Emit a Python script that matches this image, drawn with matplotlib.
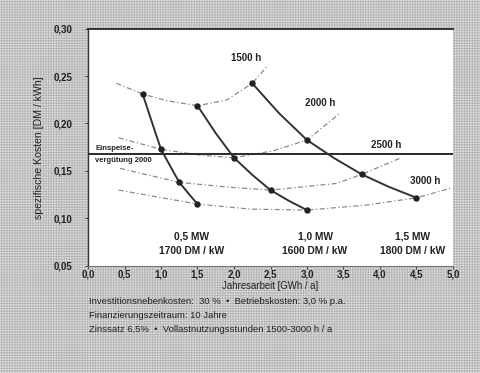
import numpy as np
import matplotlib
matplotlib.use("Agg")
import matplotlib.pyplot as plt

plt.rcParams['font.family'] = ['Liberation Sans', 'DejaVu Sans']

# Wind turbine classes: rated power [MW] and specific investment [DM/kW]
capacity_labels = ["0,5 MW", "1,0 MW", "1,5 MW"]
price_labels = ["1700 DM / kW", "1600 DM / kW", "1800 DM / kW"]

# Full-load hours and annual yield [GWh/a] per turbine class
hours = [1500, 2000, 2500, 3000]
yield_05 = [0.75, 1.00, 1.25, 1.50]
yield_10 = [1.50, 2.00, 2.50, 3.00]
yield_15 = [2.25, 3.00, 3.75, 4.50]

# Specific generation cost [DM/kWh]
cost_05 = [0.2307, 0.1727, 0.1379, 0.1150]
cost_10 = [0.2187, 0.1638, 0.1297, 0.1086]
cost_15 = [0.2423, 0.1825, 0.1463, 0.1216]

# Intermediate points on the cost curves (between the full-load-hour nodes)
mid_x_05 = [0.88, 1.13, 1.38]
mid_y_05 = [0.2003, 0.1545, 0.1258]
mid_x_10 = [1.75, 2.25, 2.75]
mid_y_10 = [0.1897, 0.1458, 0.1185]
mid_x_15 = [2.62, 3.37, 4.12]
mid_y_15 = [0.2105, 0.1635, 0.1332]

# Iso-line traces for constant full-load hours (x in GWh/a, y in DM/kWh)
iso_1500_x = [0.39, 0.76, 1.08, 1.50, 1.90, 2.25, 2.47]
iso_1500_y = [0.2423, 0.2307, 0.2240, 0.2187, 0.2247, 0.2423, 0.2616]
iso_2000_x = [0.42, 1.00, 1.53, 2.00, 2.54, 3.00, 3.45]
iso_2000_y = [0.1849, 0.1727, 0.1667, 0.1638, 0.1712, 0.1825, 0.2107]
iso_2500_x = [0.44, 1.25, 1.90, 2.50, 3.41, 3.75, 4.27]
iso_2500_y = [0.1526, 0.1379, 0.1330, 0.1297, 0.1368, 0.1463, 0.1632]
iso_3000_x = [0.42, 1.50, 2.22, 3.00, 3.82, 4.50, 4.96]
iso_3000_y = [0.1297, 0.1150, 0.1097, 0.1086, 0.1140, 0.1216, 0.1315]
iso_labels = ["1500 h", "2000 h", "2500 h", "3000 h"]

# Feed-in tariff 2000 [DM/kWh]
feed_in = 0.168

x_ticks = [0.0, 0.5, 1.0, 1.5, 2.0, 2.5, 3.0, 3.5, 4.0, 4.5, 5.0]
x_tick_labels = ["0,0", "0,5", "1,0", "1,5", "2,0", "2,5", "3,0", "3,5", "4,0", "4,5", "5,0"]
y_ticks = [0.05, 0.10, 0.15, 0.20, 0.25, 0.30]
y_tick_labels = ["0,05", "0,10", "0,15", "0,20", "0,25", "0,30"]

notes = [
    "Investitionsnebenkosten:  30 %  \u2022  Betriebskosten: 3,0 % p.a.",
    "Finanzierungszeitraum: 10 Jahre",
    "Zinssatz 6,5%  \u2022  Vollastnutzungsstunden 1500-3000 h / a",
]

W, H = 481, 373
fig = plt.figure(figsize=(W / 100, H / 100), dpi=100)

# halftone-style grey paper behind the chart
bg = fig.add_axes([0, 0, 1, 1], zorder=-5)
yy, xx = np.mgrid[0:H, 0:W]
u = (xx + yy) * np.pi / 2.6
v = (xx - yy) * np.pi / 2.6
tex = 0.77 + 0.11 * np.cos(u) * np.cos(v)
bg.imshow(tex, cmap="gray", vmin=0, vmax=1, extent=[0, 1, 0, 1],
          aspect="auto", interpolation="bilinear")
bg.set_axis_off()

left, right = 88 / W, 453 / W
bottom, top = 1 - 265.7 / H, 1 - 28.6 / H
ax = fig.add_axes([left, bottom, right - left, top - bottom])
ax.set_facecolor("white")
ax.set_xlim(0, 5)
ax.set_ylim(0.05, 0.30)

dash = (0, (4, 2, 1, 2))
iso_color = "#8a8a8a"
for xs, ys in [(iso_1500_x, iso_1500_y), (iso_2000_x, iso_2000_y),
               (iso_2500_x, iso_2500_y), (iso_3000_x, iso_3000_y)]:
    ax.plot(xs, ys, color=iso_color, lw=0.9, ls=dash, zorder=2)

ax.axhline(feed_in, color="#2a2a2a", lw=1.4, zorder=3)

curve_color = "#333333"
for nx, ny, mx, my in [(yield_05, cost_05, mid_x_05, mid_y_05),
                       (yield_10, cost_10, mid_x_10, mid_y_10),
                       (yield_15, cost_15, mid_x_15, mid_y_15)]:
    px = [nx[0], mx[0], nx[1], mx[1], nx[2], mx[2], nx[3]]
    py = [ny[0], my[0], ny[1], my[1], ny[2], my[2], ny[3]]
    ax.plot(px, py, color=curve_color, lw=1.4, zorder=4,
            solid_joinstyle="round")
    ax.plot(nx, ny, ls="none", marker="o", ms=3.6, color="#222222", zorder=5)

lab_kw = dict(fontsize=7, fontweight="bold", color="#222222", ha="center", va="center")
iso_label_pos = [(2.17, 0.269), (3.18, 0.2212), (4.09, 0.1772), (4.62, 0.1392)]
for text, (lx, ly) in zip(iso_labels, iso_label_pos):
    ax.text(lx, ly, text, **lab_kw)

mw_kw = dict(lab_kw, fontsize=7.4)
cap_pos_x = [1.42, 3.11, 4.45]
for text, lx in zip(capacity_labels, cap_pos_x):
    ax.text(lx, 0.0812, text, **mw_kw)
for text, lx in zip(price_labels, cap_pos_x):
    ax.text(lx, 0.0654, text, **mw_kw)

ax.text(0.096, 0.1735, "Einspeise-", fontsize=5.5, fontweight="bold",
        color="#222222", ha="left", va="center")
ax.text(0.096, 0.1607, "verg\u00fctung 2000", fontsize=5.5, fontweight="bold",
        color="#222222", ha="left", va="center")

ax.set_xticks(x_ticks)
ax.set_xticklabels(x_tick_labels)
ax.set_yticks(y_ticks)
ax.set_yticklabels(y_tick_labels)
ax.tick_params(axis="both", labelsize=7, length=2, width=0.7, color="#444444")
ax.tick_params(axis="y", pad=9)
ax.tick_params(axis="x", pad=1)
for lbl in ax.get_xticklabels() + ax.get_yticklabels():
    lbl.set_fontweight("bold")
    lbl.set_color("#222222")

ax.spines["top"].set_color("#333333")
ax.spines["top"].set_linewidth(1.4)
ax.spines["left"].set_color("#333333")
ax.spines["left"].set_linewidth(1.0)
ax.spines["bottom"].set_color("#777777")
ax.spines["bottom"].set_linewidth(0.8)
ax.spines["right"].set_visible(False)

fig.text(270 / W, 1 - 286 / H, "Jahresarbeit [GWh / a]", fontsize=6.9,
         color="#222222", ha="center", va="center")
fig.text(39 / W, 1 - 147.5 / H, "spezifische Kosten [DM / kWh]", fontsize=7.6,
         color="#222222", ha="center", va="center", rotation=90)

for i, line in enumerate(notes):
    fig.text(89 / W, 1 - (302 + 13.5 * i) / H, line, fontsize=6.8,
             color="#222222", ha="left", va="center")

fig.savefig("out.png", dpi=100)
